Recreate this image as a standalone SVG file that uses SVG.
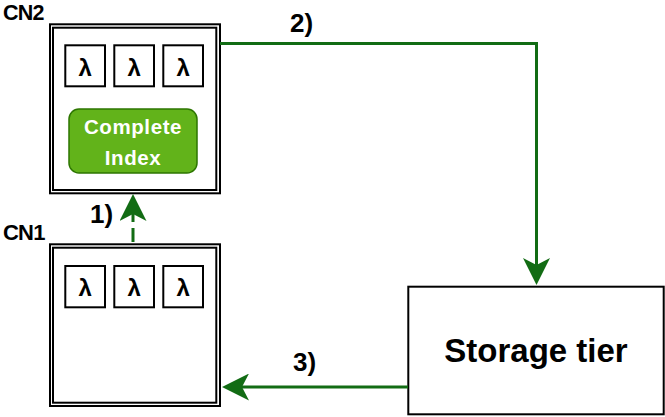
<svg xmlns="http://www.w3.org/2000/svg" width="665" height="417" viewBox="0 0 665 417">
  <style>
    .frame { fill: #ffffff; stroke: #000000; stroke-width: 2; }
    .frame-in { fill: none; stroke: #000000; stroke-width: 2; }
    .fn { fill: #ffffff; stroke: #000000; stroke-width: 2; }
    .lam { font-family: "Liberation Sans", Arial, sans-serif; font-weight: bold; font-size: 24px; fill: #000000; text-anchor: middle; }
    .lbl { font-family: "Liberation Sans", Arial, sans-serif; font-weight: bold; fill: #000000; }
    .idx { fill: #62b31a; stroke: #2d7600; stroke-width: 1.5; }
    .idx-t { font-family: "Liberation Sans", Arial, sans-serif; font-weight: bold; font-size: 20.5px; fill: #ffffff; text-anchor: middle; letter-spacing: 0.6px; }
    .edge { fill: none; stroke: #126c14; stroke-width: 3; }
  </style>
  <defs>
    <marker id="head" viewBox="0 0 27 27" refX="7" refY="13.5" markerWidth="27" markerHeight="27" markerUnits="userSpaceOnUse" orient="auto">
      <path d="M0,0 L27,13.5 L0,27 L7,13.5 Z" fill="#126c14"/>
    </marker>
  </defs>

  <!-- compute node CN2 -->
  <g id="cn2">
    <text class="lbl" x="3" y="20" font-size="21.5" letter-spacing="-0.8">CN2</text>
    <rect class="frame" x="50" y="24.3" width="170" height="169"/>
    <rect class="frame-in" x="53" y="27.7" width="163.3" height="162.3"/>
    <rect class="fn" x="65.3" y="45.3" width="39.7" height="41"/>
    <rect class="fn" x="114.3" y="45.3" width="39.7" height="41"/>
    <rect class="fn" x="163.3" y="45.3" width="39.7" height="41"/>
    <text class="lam" x="85.2" y="75.5">λ</text>
    <text class="lam" x="134.2" y="75.5">λ</text>
    <text class="lam" x="183.2" y="75.5">λ</text>
    <g id="complete-index">
      <rect class="idx" x="69" y="109" width="128" height="64" rx="10" ry="10"/>
      <text class="idx-t" x="133" y="134">Complete</text>
      <text class="idx-t" x="133" y="165">Index</text>
    </g>
  </g>

  <!-- compute node CN1 -->
  <g id="cn1">
    <text class="lbl" x="3" y="240" font-size="22" letter-spacing="-0.8">CN1</text>
    <rect class="frame" x="50" y="244.3" width="170" height="161.7"/>
    <rect class="frame-in" x="53" y="247.7" width="163.3" height="155"/>
    <rect class="fn" x="65.3" y="266" width="39.7" height="41.3"/>
    <rect class="fn" x="114.3" y="266" width="39.7" height="41.3"/>
    <rect class="fn" x="163.3" y="266" width="39.7" height="41.3"/>
    <text class="lam" x="85.2" y="295.5">λ</text>
    <text class="lam" x="134.2" y="295.5">λ</text>
    <text class="lam" x="183.2" y="295.5">λ</text>
  </g>

  <!-- storage tier -->
  <g id="storage">
    <rect class="fn" x="408.3" y="286.7" width="255.4" height="127.6"/>
    <text class="lbl" x="536" y="361.7" font-size="33" text-anchor="middle">Storage tier</text>
  </g>

  <!-- connectors -->
  <g id="connectors">
    <path class="edge" d="M133,242 V214" stroke-dasharray="14 6" marker-end="url(#head)"/>
    <path class="edge" d="M220,43.5 H536.5 V265" marker-end="url(#head)"/>
    <path class="edge" d="M408,387 H242" marker-end="url(#head)"/>
    <text class="lbl" x="90" y="223" font-size="26">1)</text>
    <text class="lbl" x="290" y="32" font-size="26">2)</text>
    <text class="lbl" x="293" y="371" font-size="26">3)</text>
  </g>
</svg>
